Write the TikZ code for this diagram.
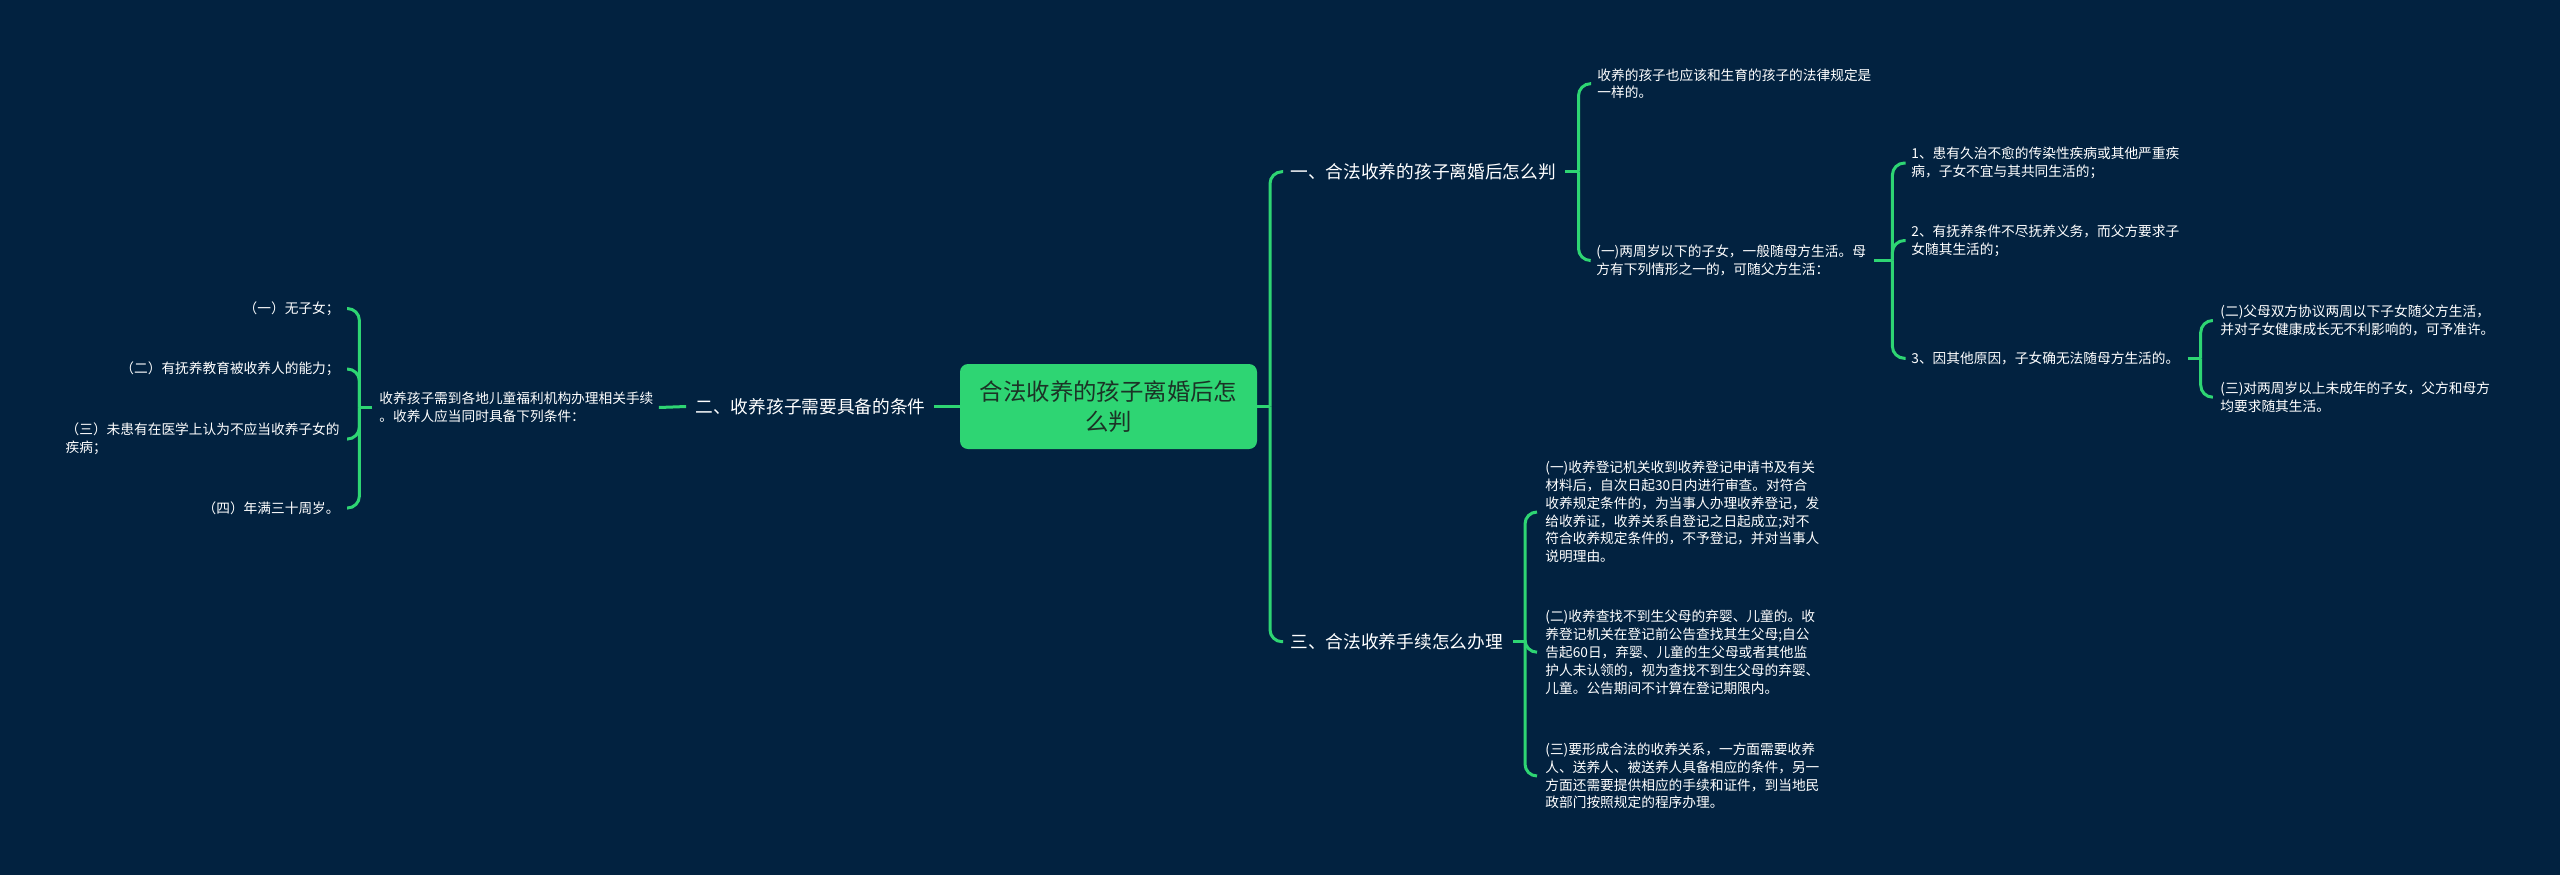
\documentclass[tikz,border=0pt]{standalone}
\usepackage{fontspec}
\setmainfont{Noto Sans CJK SC}
\newfontfamily\cjk{Noto Sans CJK SC}
\usetikzlibrary{calc}
\definecolor{bgc}{HTML}{022240}
\definecolor{grn}{HTML}{2ED573}
\definecolor{dtx}{HTML}{1B3326}
\tikzset{
  conn/.style={draw=grn, line width=1.5pt, rounded corners=6pt},
  small/.style={inner sep=0pt, text=white, align=left, font=\cjk\fontsize{6.85pt}{8.9pt}\selectfont},
  lvone/.style={inner sep=0pt, text=white, font=\cjk\fontsize{8.85pt}{11pt}\selectfont},
  rootbox/.style={fill=grn, rounded corners=4pt, text=dtx, align=center, minimum width=148.5pt, minimum height=42.5pt, inner sep=0pt, font=\cjk\fontsize{11.7pt}{15.4pt}\selectfont}
}
\begin{document}
\begin{tikzpicture}[x=0.5pt,y=-0.5pt]
\fill[bgc] (0,0) rectangle (2560,875);
\useasboundingbox (0,0) rectangle (2560,875);

% root
\node[rootbox] (root) at (1108.5,406.5) {合法收养的孩子离婚后怎\\么判};

% level 1
\node[lvone, anchor=west] (one) at (1290,171.7) {一、合法收养的孩子离婚后怎么判};
\node[lvone, anchor=west] (three) at (1290,641.7) {三、合法收养手续怎么办理};
\node[lvone, anchor=east] (two) at (926,406.5) {二、收养孩子需要具备的条件};

% right branch one
\node[small, anchor=west] (a) at (1597,83.7) {收养的孩子也应该和生育的孩子的法律规定是\\一样的。};
\node[small, anchor=west] (b) at (1596,260.5) {(一)两周岁以下的子女，一般随母方生活。母\\方有下列情形之一的，可随父方生活：};
\node[small, anchor=west] (c1) at (1911,163) {1、患有久治不愈的传染性疾病或其他严重疾\\病，子女不宜与其共同生活的；};
\node[small, anchor=west] (c2) at (1911,240.5) {2、有抚养条件不尽抚养义务，而父方要求子\\女随其生活的；};
\node[small, anchor=west] (c3) at (1911,358.3) {3、因其他原因，子女确无法随母方生活的。};
\node[small, anchor=west] (d1) at (2220,320.5) {(二)父母双方协议两周以下子女随父方生活，\\并对子女健康成长无不利影响的，可予准许。};
\node[small, anchor=west] (d2) at (2220,397.2) {(三)对两周岁以上未成年的子女，父方和母方\\均要求随其生活。};

% right branch three
\node[small, anchor=west] (e1) at (1545,512) {(一)收养登记机关收到收养登记申请书及有关\\材料后，自次日起30日内进行审查。对符合\\收养规定条件的，为当事人办理收养登记，发\\给收养证，收养关系自登记之日起成立;对不\\符合收养规定条件的，不予登记，并对当事人\\说明理由。};
\node[small, anchor=west] (e2) at (1545,652.2) {(二)收养查找不到生父母的弃婴、儿童的。收\\养登记机关在登记前公告查找其生父母;自公\\告起60日，弃婴、儿童的生父母或者其他监\\护人未认领的，视为查找不到生父母的弃婴、\\儿童。公告期间不计算在登记期限内。};
\node[small, anchor=west] (e3) at (1545,776) {(三)要形成合法的收养关系，一方面需要收养\\人、送养人、被送养人具备相应的条件，另一\\方面还需要提供相应的手续和证件，到当地民\\政部门按照规定的程序办理。};

% left branch
\node[small, anchor=west] (n) at (379,407.5) {收养孩子需到各地儿童福利机构办理相关手续\\。收养人应当同时具备下列条件：};
\node[small, anchor=east] (i1) at (340,308.5) {（一）无子女；};
\node[small, anchor=east] (i2) at (340,369) {（二）有抚养教育被收养人的能力；};
\node[small, anchor=east] (i3) at (340,439) {（三）未患有在医学上认为不应当收养子女的\\疾病；};
\node[small, anchor=east] (i4) at (340,508) {（四）年满三十周岁。};

% vertical guide coordinates
\coordinate (vt) at (1270,0);
\coordinate (vo) at (1578.5,0);
\coordinate (vc) at (1892.4,0);
\coordinate (vd) at (2200.7,0);
\coordinate (ve) at (1525,0);
\coordinate (vl) at (359.4,0);

% root to right trunk
\draw[conn] (root.east) -- (root.east -| vt);
\draw[conn] (root.east -| vt) |- ([xshift=-3.5pt]one.west);
\draw[conn] (root.east -| vt) |- ([xshift=-3.5pt]three.west);

% branch one
\draw[conn] ([xshift=4.5pt]one.east) -- (one.east -| vo);
\draw[conn] (one.east -| vo) |- ([xshift=-3pt]a.west);
\draw[conn] (one.east -| vo) |- ([xshift=-3pt]b.west);

% (一) sub bracket
\draw[conn] ([xshift=4pt]b.east) -- (b.east -| vc);
\draw[conn] (b.east -| vc) |- ([xshift=-2.7pt]c1.west);
\draw[conn] (b.east -| vc) |- ([xshift=-2.7pt]c2.west);
\draw[conn] (b.east -| vc) |- ([xshift=-2.7pt]c3.west);

% 3、 sub bracket
\draw[conn] ([xshift=4pt]c3.east) -- (c3.east -| vd);
\draw[conn] (c3.east -| vd) |- ([xshift=-4pt]d1.west);
\draw[conn] (c3.east -| vd) |- ([xshift=-4pt]d2.west);

% branch three
\draw[conn] ([xshift=5pt]three.east) -- (three.east -| ve);
\draw[conn] (three.east -| ve) |- ([xshift=-4pt]e1.west);
\draw[conn] (three.east -| ve) |- ([xshift=-4pt]e2.west);
\draw[conn] (three.east -| ve) |- ([xshift=-4pt]e3.west);

% left side
\draw[conn] (root.west) -- ([xshift=4pt]two.east);
\draw[conn] ([xshift=-4.5pt]two.west) -- ([xshift=2.5pt]n.east);
\draw[conn] ([xshift=-3.3pt]n.west) -- (n.west -| vl);
\draw[conn] (n.west -| vl) |- ([xshift=3.5pt]i1.east);
\draw[conn] (n.west -| vl) |- ([xshift=3.5pt]i2.east);
\draw[conn] (n.west -| vl) |- ([xshift=3.5pt]i3.east);
\draw[conn] (n.west -| vl) |- ([xshift=3.5pt]i4.east);
\end{tikzpicture}
\end{document}
